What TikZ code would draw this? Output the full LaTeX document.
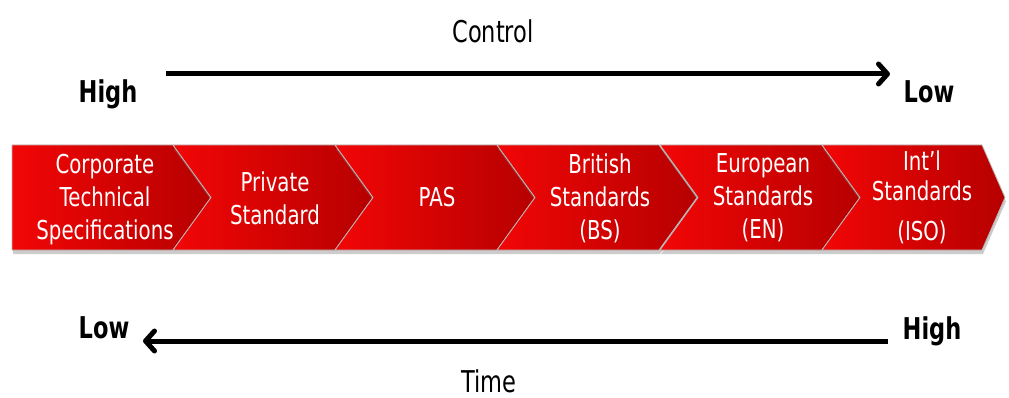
\documentclass[tikz,border=0pt]{standalone}
\usepackage{fontspec}
\usepackage{xcolor}
\usepackage{tikz}
\usetikzlibrary{arrows.meta,shadows}

\newfontfamily\chevfont[FakeStretch=0.76]{DejaVu Sans}
\newfontfamily\labelfont[FakeStretch=0.75]{DejaVu Sans}

\definecolor{chevlight}{RGB}{242,6,6}
\definecolor{chevdark}{RGB}{182,0,0}

\begin{document}
\begin{tikzpicture}[
  x=1pt, y=-1pt,
  chev/.style={left color=chevlight, right color=chevdark, draw=gray!55, line width=0.8pt, line join=round,
    drop shadow={shadow xshift=1pt, shadow yshift=-4pt, opacity=0.4}},
  chevtext/.style={text=white, align=center, font=\chevfont\fontsize{26}{33}\selectfont},
  lbl/.style={anchor=base, font=\labelfont\fontsize{30}{36}\selectfont},
  lblbold/.style={anchor=base, font=\labelfont\bfseries\fontsize{30}{36}\selectfont},
  axis/.style={line width=5pt, -{Straight Barb[length=9pt, width=20pt, round]}}
]
\useasboundingbox (0,0) rectangle (1009,398);

% chevron band
\path[chev] (12,145) -- (173,145) -- (211,197.5) -- (173,250) -- (12,250) -- cycle;
\foreach \l in {173,335,497,660}
  \path[chev] (\l,145) -- ++(162,0) -- ++(38,52.5) -- ++(-38,52.5) -- ++(-162,0) -- ++(38,-52.5) -- cycle;
\path[chev] (822,145) -- (982,145) -- (1005,197.5) -- (982,250) -- (822,250) -- (860,197.5) -- cycle;

\node[chevtext] (cts) at (105,200) {Corporate\\Technical\\Specifications};
\node[chevtext] (priv) at (275,198) {Private\\Standard};
\node[chevtext] (pas) at (437,197.5) {PAS};
\node[chevtext] (bs) at (600,198) {British\\Standards\\(BS)};
\node[chevtext] (en) at (763,198) {European\\Standards\\(EN)};
\node[chevtext] (iso) at (922,197) {Int’l\\[-3pt]Standards\\[7pt](ISO)};

% control axis
\node[lbl] (ctl) at (493,43) {Control};
\node[lblbold] (ctlhi) at (108,103) {High};
\node[lblbold] (ctllo) at (929,103) {Low};
\coordinate (ctlA) at (166,74);
\coordinate (ctlB) at (890,74);
\draw[axis] (ctlA) -- (ctlB);

% time axis
\node[lblbold] (timelo) at (104,338) {Low};
\node[lblbold] (timehi) at (932,339) {High};
\node[lbl] (time) at (489,392) {Time};
\coordinate (timeA) at (888,341);
\coordinate (timeB) at (143,341);
\draw[axis] (timeA) -- (timeB);
\end{tikzpicture}
\end{document}
